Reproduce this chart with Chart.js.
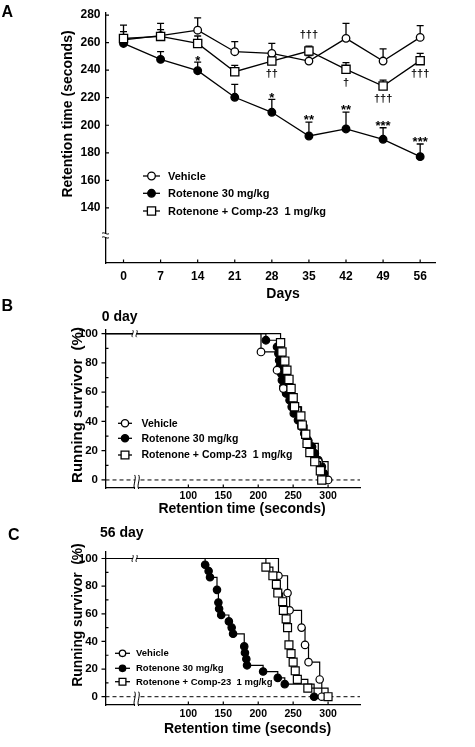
<!DOCTYPE html>
<html>
<head>
<meta charset="utf-8">
<title>Retention time / running survivor</title>
<script src="https://cdn.jsdelivr.net/npm/chart.js@4.4.1/dist/chart.umd.min.js"></script>
<style>
  html, body { margin: 0; padding: 0; background: #fff; }
  body { width: 475px; height: 747px; position: relative; overflow: hidden; }
  canvas { position: absolute; left: 0; }
  #chartA { top: 0; }
  #chartB { top: 290px; }
  #chartC { top: 515px; }
</style>
</head>
<body>
<canvas id="chartA" width="475" height="305"></canvas>
<canvas id="chartB" width="475" height="230"></canvas>
<canvas id="chartC" width="475" height="232"></canvas>
<script>
// --- Panel A: retention time over days (mean + upper SEM) ---
var days = [0, 7, 14, 21, 28, 35, 42, 49, 56];
var vehicleMean  = [262, 265, 269, 253.4, 252.2, 246.6, 263.1, 246.6, 263.8];
var vehicleSem   = [10.7, 9, 9, 7.3, 7.2, 4, 10.9, 8.9, 8.5];
var rotenoneMean = [259.4, 247.8, 239.6, 220.3, 209.4, 192.2, 197.3, 189.8, 177.2];
var rotenoneSem  = [2, 5.6, 6.2, 9.4, 9.4, 10.1, 12.3, 8.4, 9.2];
var compMean     = [263, 264.5, 259.4, 238.9, 246.6, 253.9, 240.6, 228.5, 246.9];
var compSem      = [5, 5, 5.4, 4.6, 4, 3.6, 4.8, 4.3, 5.3];
var rotenoneSig  = ['', '', '*', '', '*', '**', '**', '***', '***'];
var compSig      = ['', '', '', '', '\u2020\u2020', '\u2020\u2020\u2020', '\u2020', '\u2020\u2020\u2020', '\u2020\u2020\u2020'];
var retentionTicks = [140, 160, 180, 200, 220, 240, 260, 280];
var seriesNames = ['Vehicle', 'Rotenone 30 mg/kg', 'Rotenone + Comp-23  1 mg/kg'];

// --- Panel B: running survivor at day 0 ---
var day0VehicleTime  = [204, 227, 236, 250, 262, 270, 286, 300];
var day0VehicleSurv  = [87.5, 75, 62.5, 50, 37.5, 25, 12.5, 0];
var day0RotenoneTime = [211, 227, 229, 230, 231, 233, 234, 236, 240, 245, 248, 251, 257, 262, 266, 271, 277, 281, 286, 291, 294, 296];
var day0RotenoneSurv = [95.5, 90.9, 86.4, 81.8, 77.3, 72.7, 68.2, 63.6, 59.1, 54.5, 50, 45.5, 40.9, 36.4, 31.8, 27.3, 22.7, 18.2, 13.6, 9.1, 4.5, 0];
var day0CompTime     = [232, 234, 238, 241, 244, 247, 250, 252, 261, 263, 268, 270, 274, 281, 289, 291];
var day0CompSurv     = [93.75, 87.5, 81.25, 75, 68.75, 62.5, 56.25, 50, 43.75, 37.5, 31.25, 25, 18.75, 12.5, 6.25, 0];

// --- Panel C: running survivor at day 56 ---
var day56VehicleTime  = [229, 242, 245, 262, 267, 272, 288, 291];
var day56VehicleSurv  = [87.5, 75, 62.5, 50, 37.5, 25, 12.5, 0];
var day56RotenoneTime = [124, 129, 131, 141, 143, 144, 147, 158, 162, 164, 180, 181, 183, 184, 207, 228, 238, 280];
var day56RotenoneSurv = [95.5, 90.9, 86.4, 77.3, 68.2, 63.6, 59.1, 54.5, 50, 45.5, 36.4, 31.8, 27.3, 22.7, 18.2, 13.6, 9.1, 0];
var day56CompTime     = [211, 221, 226, 228, 235, 236, 240, 242, 244, 247, 250, 253, 256, 271, 300];
var day56CompSurv     = [93.75, 87.5, 81.25, 75, 68.75, 62.5, 56.25, 50, 37.5, 31.25, 25, 18.75, 12.5, 6.25, 0];

var survivorTicks = [0, 20, 40, 60, 80, 100];
var survivorMinorTicks = [10, 30, 50, 70, 90];
var secondsTicks = [100, 150, 200, 250, 300];
var secondsMin = -18.6, secondsMax = 345.7, secondsBreak = 26;

var FONT = '"Liberation Sans", Arial, Helvetica, sans-serif';
var NARROW = '"Liberation Sans Narrow", "Arial Narrow", "Liberation Sans", Arial, sans-serif';
Chart.defaults.color = '#000';
Chart.defaults.font.family = FONT;

// marker look per series: vehicle / rotenone / rotenone + comp-23
var markers = [
  { shape: 'circle', fill: '#fff' },
  { shape: 'circle', fill: '#000' },
  { shape: 'rect',   fill: '#fff' }
];

function fixedTicks(values) {
  return function (scale) {
    scale.ticks = values.map(function (v) { return { value: v }; });
  };
}

function drawMarker(ctx, m, x, y, r) {
  ctx.save();
  ctx.lineWidth = 1.3;
  ctx.strokeStyle = '#000';
  ctx.fillStyle = m.fill;
  ctx.beginPath();
  if (m.shape === 'rect') {
    var h = r * Math.SQRT1_2;
    ctx.rect(x - h, y - h, 2 * h, 2 * h);
  } else {
    ctx.arc(x, y, r, 0, Math.PI * 2);
  }
  ctx.fill();
  ctx.stroke();
  ctx.restore();
}

function drawLegend(ctx, lg) {
  ctx.save();
  ctx.font = 'bold ' + lg.size + 'px ' + FONT;
  ctx.textAlign = 'left';
  ctx.textBaseline = 'middle';
  ctx.fillStyle = '#000';
  seriesNames.forEach(function (name, i) {
    var y = lg.rows[i];
    ctx.strokeStyle = '#000';
    ctx.lineWidth = 1.3;
    ctx.beginPath();
    ctx.moveTo(lg.x1, y);
    ctx.lineTo(lg.x2, y);
    ctx.stroke();
    drawMarker(ctx, markers[i], (lg.x1 + lg.x2) / 2, y, markers[i].shape === 'rect' ? lg.rect : lg.circle);
    ctx.fillText(name, lg.tx, y + 0.5);
  });
  ctx.restore();
}

function drawText(ctx, t) {
  ctx.save();
  ctx.font = 'bold ' + t.size + 'px ' + FONT;
  ctx.fillStyle = '#000';
  ctx.textAlign = t.align || 'center';
  ctx.textBaseline = 'alphabetic';
  ctx.translate(t.x, t.y);
  if (t.rot) ctx.rotate(-Math.PI / 2);
  ctx.fillText(t.text, 0, 0);
  ctx.restore();
}

// two wavy strokes with white in between (axis break)
function vBreak(ctx, x, y1, y2) {
  ctx.save();
  ctx.fillStyle = '#fff';
  ctx.fillRect(x - 1.6, y1, 3.2, y2 - y1);
  ctx.strokeStyle = '#000';
  ctx.lineWidth = 1;
  var m = (y1 + y2) / 2, q = (y2 - y1) / 4;
  [-2, 2].forEach(function (dx) {
    ctx.beginPath();
    ctx.moveTo(x + dx, y1);
    ctx.bezierCurveTo(x + dx + 2.2, m - q, x + dx - 2.2, m + q, x + dx, y2);
    ctx.stroke();
  });
  ctx.restore();
}

function hBreak(ctx, x1, x2, y) {
  ctx.save();
  ctx.fillStyle = '#fff';
  ctx.fillRect(x1, y - 1.6, x2 - x1, 3.2);
  ctx.strokeStyle = '#000';
  ctx.lineWidth = 1;
  var m = (x1 + x2) / 2, q = (x2 - x1) / 4;
  [-2, 2].forEach(function (dy) {
    ctx.beginPath();
    ctx.moveTo(x1, y + dy);
    ctx.bezierCurveTo(m - q, y + dy - 2.2, m + q, y + dy + 2.2, x2, y + dy);
    ctx.stroke();
  });
  ctx.restore();
}

function axisStyle() {
  return {
    grid: { display: false, drawTicks: false },
    border: { display: true, color: '#000', width: 1.3 }
  };
}

// =========================================
// Panel A
// =========================================
var panelA = {
  id: 'panelA',
  beforeDatasetsDraw: function (chart) {
    var ctx = chart.ctx, xs = chart.scales.x, ys = chart.scales.y;
    ctx.save();
    ctx.strokeStyle = '#000';
    ctx.lineWidth = 1.3;
    [[vehicleMean, vehicleSem], [rotenoneMean, rotenoneSem], [compMean, compSem]].forEach(function (g) {
      days.forEach(function (d, i) {
        var x = xs.getPixelForValue(d);
        var y0 = ys.getPixelForValue(g[0][i]);
        var y1 = ys.getPixelForValue(g[0][i] + g[1][i]);
        ctx.beginPath();
        ctx.moveTo(x, y0); ctx.lineTo(x, y1);
        ctx.moveTo(x - 3.5, y1); ctx.lineTo(x + 3.5, y1);
        ctx.stroke();
      });
    });
    ctx.restore();
  },
  afterDatasetsDraw: function (chart) {
    var ctx = chart.ctx, xs = chart.scales.x, ys = chart.scales.y;
    ctx.save();
    ctx.fillStyle = '#000';
    ctx.textAlign = 'center';
    ctx.textBaseline = 'alphabetic';
    days.forEach(function (d, i) {
      var x = xs.getPixelForValue(d);
      if (rotenoneSig[i]) {
        ctx.font = 'bold 13px ' + FONT;
        ctx.fillText(rotenoneSig[i], x, ys.getPixelForValue(rotenoneMean[i] + rotenoneSem[i]) + 2.4);
      }
      if (compSig[i]) {
        ctx.font = 'bold 11px ' + FONT;
        if (compMean[i] > vehicleMean[i]) {
          ctx.fillText(compSig[i], x, ys.getPixelForValue(compMean[i] + compSem[i]) - 7.8);
        } else {
          ctx.fillText(compSig[i], x, ys.getPixelForValue(compMean[i]) + 16.2);
        }
      }
    });
    ctx.restore();
  },
  afterDraw: function (chart) {
    var ctx = chart.ctx, xs = chart.scales.x, ys = chart.scales.y, a = chart.chartArea;
    ctx.save();
    ctx.strokeStyle = '#000';
    ctx.lineWidth = 1.2;
    ctx.beginPath();
    retentionTicks.forEach(function (v) {
      var y = ys.getPixelForValue(v);
      ctx.moveTo(a.left, y); ctx.lineTo(a.left + 3.5, y);
    });
    days.forEach(function (d) {
      var x = xs.getPixelForValue(d);
      ctx.moveTo(x, a.bottom); ctx.lineTo(x, a.bottom - 3.5);
    });
    ctx.stroke();
    ctx.restore();
    hBreak(ctx, a.left - 3.5, a.left + 3.5, ys.getPixelForValue(120));
    drawLegend(ctx, { x1: 143, x2: 160, tx: 168, rows: [176, 193.3, 211], size: 11, circle: 3.8, rect: 5.8 });
    drawText(ctx, { text: 'Days', x: 283, y: 298, size: 14 });
    drawText(ctx, { text: 'Retention time (seconds)', x: 71.5, y: 114, size: 14, rot: true });
    drawText(ctx, { text: 'A', x: 1.5, y: 16.7, size: 16, align: 'left' });
  }
};

function meanSet(label, means, m, order) {
  return {
    label: label,
    data: days.map(function (d, i) { return { x: d, y: means[i] }; }),
    order: order,
    borderColor: '#000',
    borderWidth: 1.3,
    pointStyle: m.shape,
    pointRadius: m.shape === 'rect' ? 5.8 : 3.8,
    pointBackgroundColor: m.fill,
    pointBorderColor: '#000',
    pointBorderWidth: 1.3,
    tension: 0,
    fill: false,
    clip: false
  };
}

new Chart(document.getElementById('chartA'), {
  type: 'line',
  data: {
    datasets: [
      meanSet(seriesNames[2], compMean, markers[2], 0),
      meanSet(seriesNames[0], vehicleMean, markers[0], 1),
      meanSet(seriesNames[1], rotenoneMean, markers[1], 2)
    ]
  },
  plugins: [panelA],
  options: {
    responsive: false,
    animation: false,
    devicePixelRatio: 1,
    layout: { padding: { left: 0, right: 40, top: 13, bottom: 0 } },
    plugins: { legend: { display: false }, tooltip: { enabled: false } },
    scales: {
      x: Object.assign(axisStyle(), {
        type: 'linear', min: -3.4, max: 58.8,
        afterBuildTicks: fixedTicks(days),
        afterFit: function (s) { s.height = 42; },
        ticks: { font: { size: 12, weight: 'bold' }, padding: 6, autoSkip: false, maxRotation: 0 }
      }),
      y: Object.assign(axisStyle(), {
        type: 'linear', min: 100, max: 281.5,
        afterBuildTicks: fixedTicks(retentionTicks),
        afterFit: function (s) { s.width = 105.5; },
        ticks: { font: { size: 12, weight: 'bold' }, padding: 5, autoSkip: false }
      })
    }
  }
});

// =========================================
// Panels B and C: step survival curves
// =========================================
function survivalChart(id, groups, cfg) {
  var datasets = groups.map(function (g, k) {
    var m = markers[k];
    var pts = [{ x: secondsMin, y: 100 }];
    var radius = [0];
    g.time.forEach(function (t, i) {
      pts.push({ x: t, y: g.surv[i] });
      radius.push(m.shape === 'rect' ? cfg.rect : cfg.circle);
    });
    return {
      label: seriesNames[k],
      data: pts,
      order: g.order,
      stepped: true,
      borderColor: '#000',
      borderWidth: 1.2,
      pointStyle: m.shape,
      pointRadius: radius,
      pointBackgroundColor: m.fill,
      pointBorderColor: '#000',
      pointBorderWidth: 1.2,
      fill: false,
      clip: false
    };
  });

  var decor = {
    id: 'survDecor',
    beforeDatasetsDraw: function (chart) {
      var ctx = chart.ctx, ys = chart.scales.y, a = chart.chartArea;
      var y0 = ys.getPixelForValue(0);
      ctx.save();
      ctx.strokeStyle = '#000';
      ctx.lineWidth = 1;
      ctx.setLineDash([4, 3]);
      ctx.beginPath();
      ctx.moveTo(a.left, y0);
      ctx.lineTo(a.right, y0);
      ctx.stroke();
      ctx.restore();
    },
    afterDraw: function (chart) {
      var ctx = chart.ctx, xs = chart.scales.x, ys = chart.scales.y, a = chart.chartArea;
      ctx.save();
      ctx.strokeStyle = '#000';
      ctx.lineWidth = 1.2;
      ctx.beginPath();
      survivorTicks.forEach(function (v) {
        var y = ys.getPixelForValue(v);
        ctx.moveTo(a.left - 4, y); ctx.lineTo(a.left, y);
      });
      survivorMinorTicks.forEach(function (v) {
        var y = ys.getPixelForValue(v);
        ctx.moveTo(a.left, y); ctx.lineTo(a.left + 3, y);
      });
      secondsTicks.forEach(function (v) {
        var x = xs.getPixelForValue(v);
        ctx.moveTo(x, a.bottom); ctx.lineTo(x, a.bottom - 3.5);
      });
      ctx.stroke();
      ctx.restore();
      var xb = xs.getPixelForValue(secondsBreak);
      vBreak(ctx, xb, ys.getPixelForValue(0) - 5, a.bottom + 1);
      vBreak(ctx, xb - 2, ys.getPixelForValue(100) - 3.5, ys.getPixelForValue(100) + 3.5);
      drawLegend(ctx, cfg.legend);
      cfg.texts.forEach(function (t) { drawText(ctx, t); });
    }
  };

  new Chart(document.getElementById(id), {
    type: 'line',
    data: { datasets: datasets },
    plugins: [decor],
    options: {
      responsive: false,
      animation: false,
      devicePixelRatio: 1,
      layout: { padding: { left: 0, right: 115, top: cfg.top, bottom: 0 } },
      plugins: { legend: { display: false }, tooltip: { enabled: false } },
      scales: {
        x: Object.assign(axisStyle(), {
          type: 'linear', min: secondsMin, max: secondsMax,
          afterBuildTicks: fixedTicks(secondsTicks),
          afterFit: function (s) { s.height = cfg.xHeight; },
          ticks: { font: { size: 10.5, weight: 'bold' }, padding: cfg.xPad, autoSkip: false, maxRotation: 0 }
        }),
        y: Object.assign(axisStyle(), {
          type: 'linear', min: cfg.yMin, max: cfg.yMax,
          afterBuildTicks: fixedTicks(survivorTicks),
          afterFit: function (s) { s.width = 105.5; },
          ticks: { font: { family: NARROW, size: 11.5, weight: 'bold' }, padding: 7.5, autoSkip: false }
        })
      }
    }
  });
}

survivalChart('chartB', [
  { time: day0VehicleTime, surv: day0VehicleSurv, order: 1 },
  { time: day0RotenoneTime, surv: day0RotenoneSurv, order: 2 },
  { time: day0CompTime, surv: day0CompSurv, order: 0 }
], {
  top: 40, xHeight: 32, xPad: 1.5, yMin: -5.5, yMax: 102.5, circle: 3.8, rect: 5.8,
  legend: { x1: 118, x2: 132, tx: 141.5, rows: [133.3, 148.3, 165], size: 10.5, circle: 3.6, rect: 5.5 },
  texts: [
    { text: 'B', x: 1.5, y: 20.7, size: 16, align: 'left' },
    { text: '0 day', x: 101.7, y: 30.7, size: 14, align: 'left' },
    { text: 'Running survivor  (%)', x: 82, y: 115, size: 15, rot: true },
    { text: 'Retention time (seconds)', x: 242, y: 223.3, size: 14 }
  ]
});

survivalChart('chartC', [
  { time: day56VehicleTime, surv: day56VehicleSurv, order: 1 },
  { time: day56RotenoneTime, surv: day56RotenoneSurv, order: 2 },
  { time: day56CompTime, surv: day56CompSurv, order: 0 }
], {
  top: 37, xHeight: 42, xPad: 3, yMin: -6, yMax: 104.7, circle: 3.7, rect: 5.6,
  legend: { x1: 115, x2: 130, tx: 136, rows: [138.3, 153.3, 166.7], size: 9.5, circle: 3.2, rect: 4.8 },
  texts: [
    { text: 'C', x: 8, y: 25, size: 16, align: 'left' },
    { text: '56 day', x: 100, y: 22.3, size: 14, align: 'left' },
    { text: 'Running survivor  (%)', x: 82, y: 100, size: 13.8, rot: true },
    { text: 'Retention time (seconds)', x: 247.5, y: 218.3, size: 14 }
  ]
});
</script>
</body>
</html>
